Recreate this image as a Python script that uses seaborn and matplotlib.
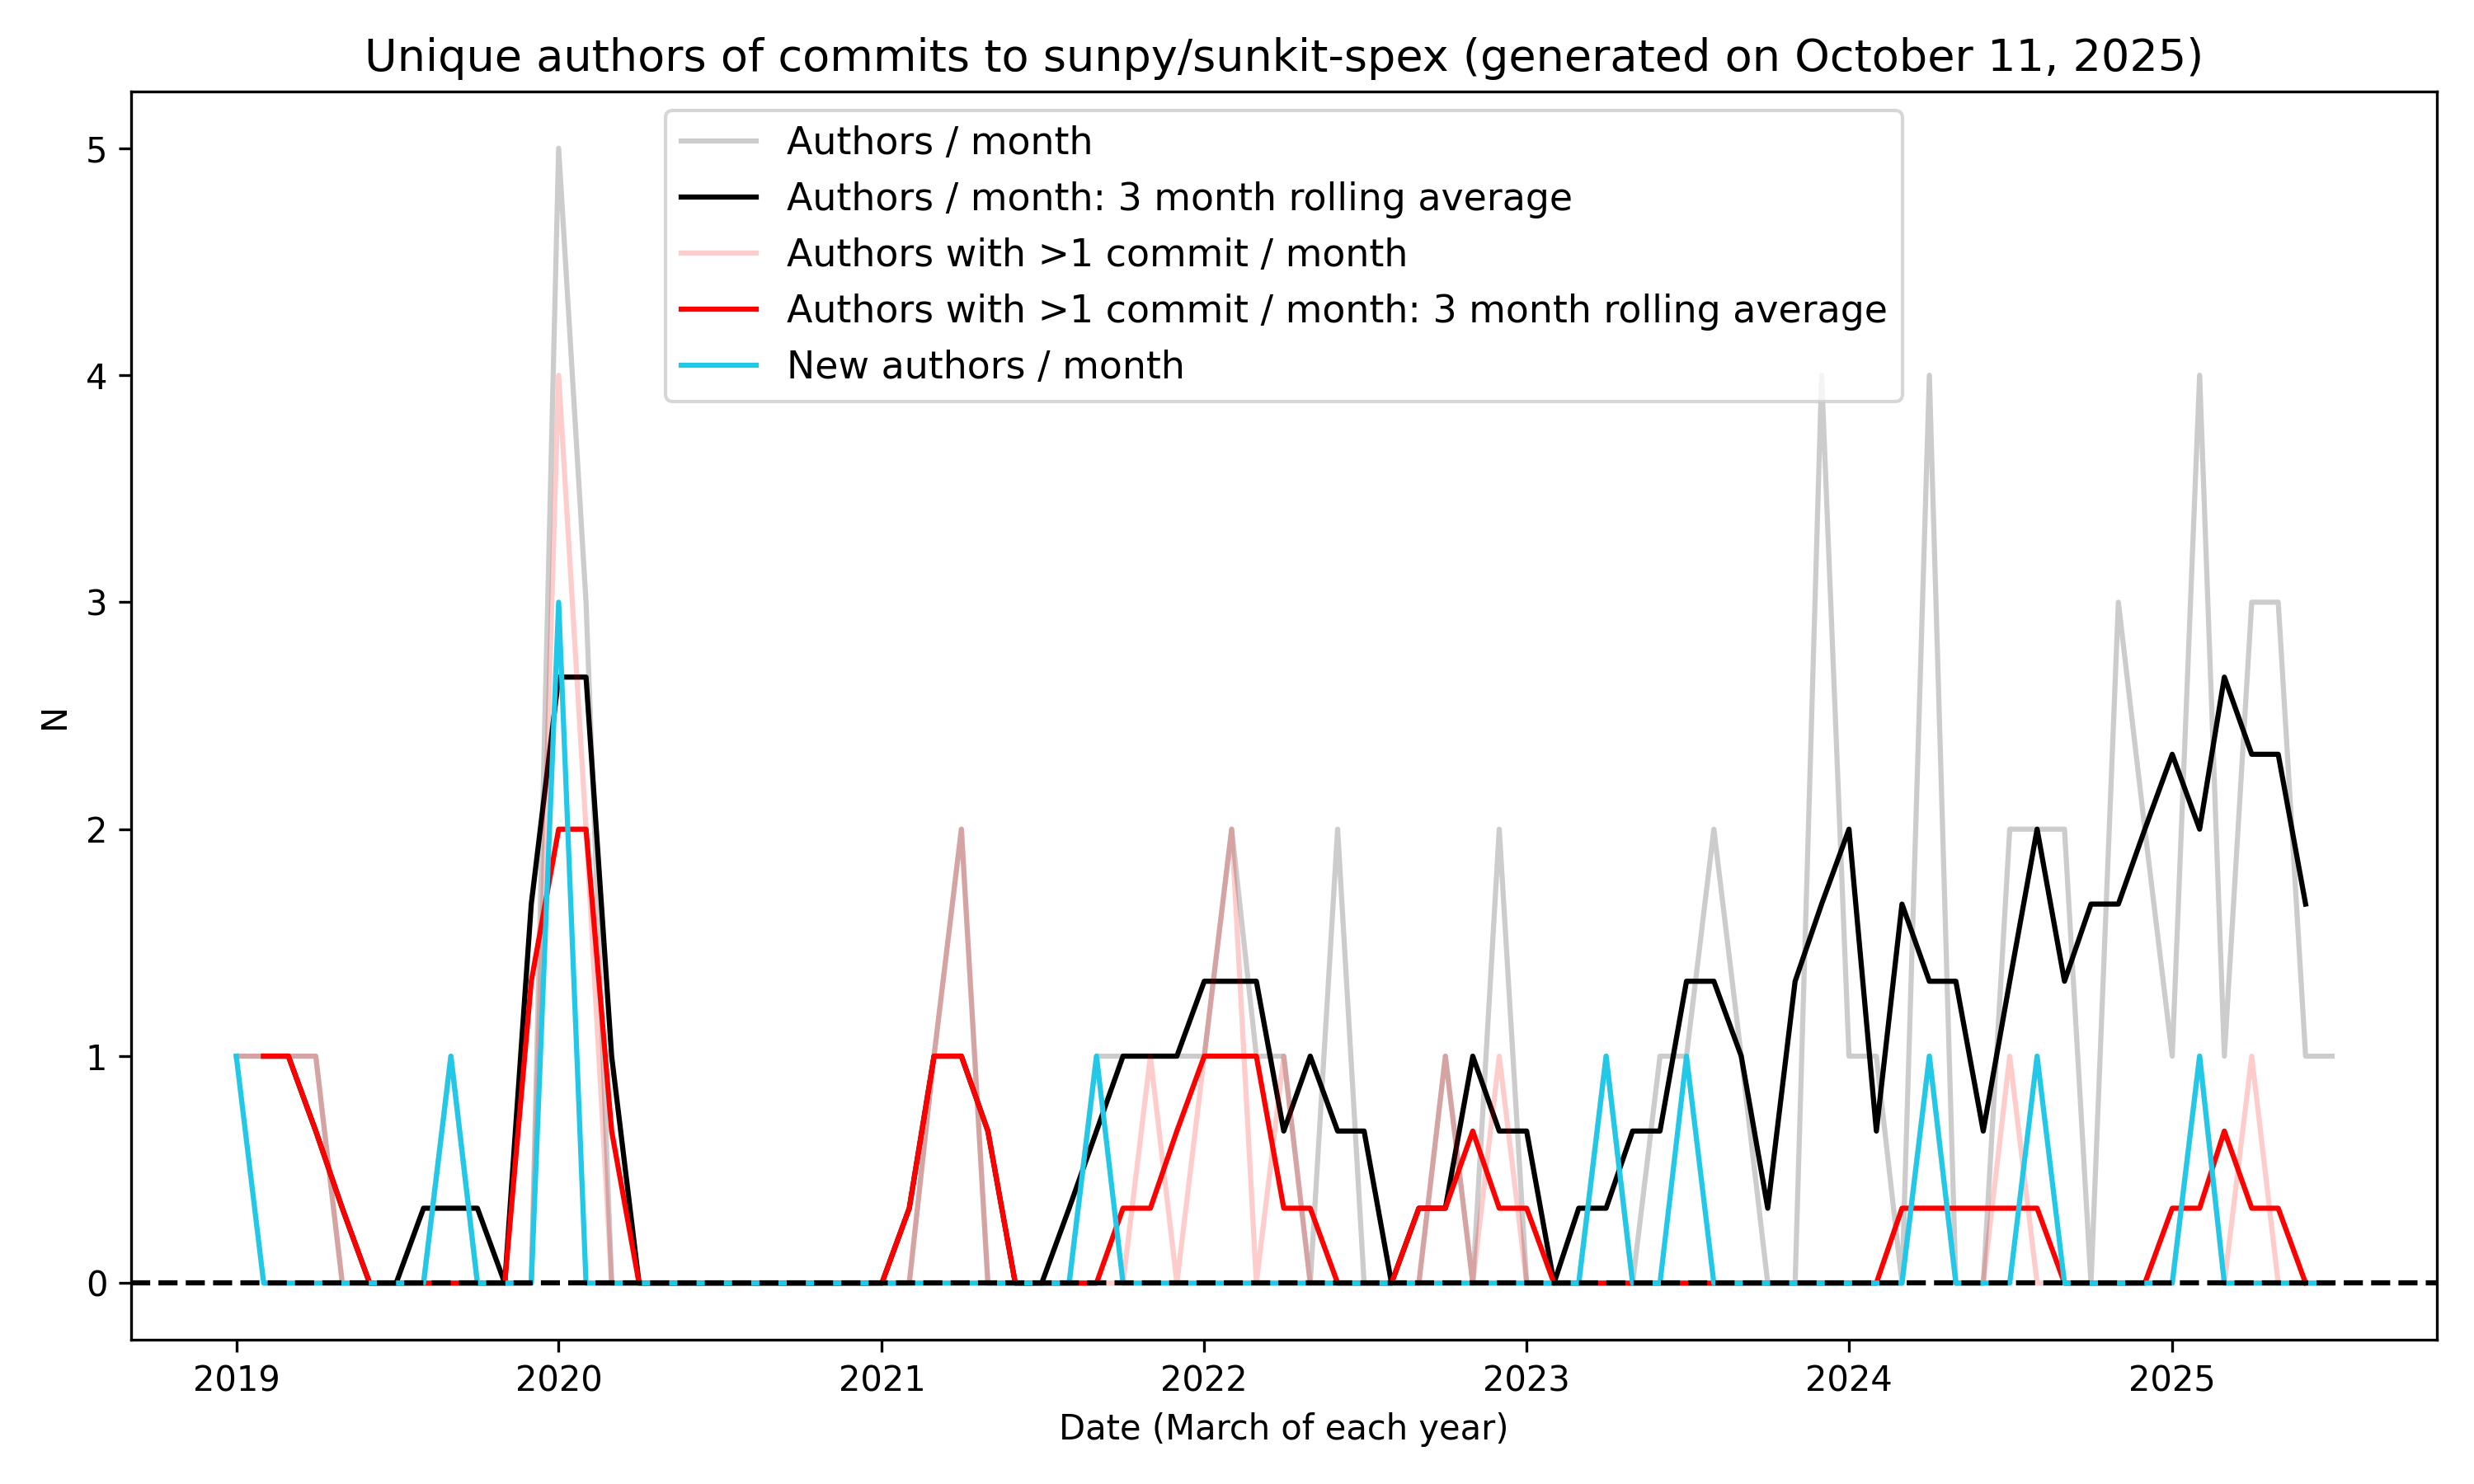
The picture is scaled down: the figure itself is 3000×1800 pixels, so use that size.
import numpy as np
import pandas as pd
import seaborn as sns
from matplotlib import pyplot as plt

months = pd.date_range('2019-01-01', periods=79, freq='MS')

authors = [1, 1, 1, 1, 0, 0, 0, 0, 1, 0, 0, 0,
           5, 3, 0, 0, 0, 0, 0, 0, 0, 0, 0, 0,
           0, 0, 1, 2, 0, 0, 0, 0, 1, 1, 1, 1,
           1, 2, 1, 1, 0, 2, 0, 0, 0, 1, 0, 2,
           0, 0, 0, 1, 0, 1, 1, 2, 1, 0, 0, 4,
           1, 1, 0, 4, 0, 0, 2, 2, 2, 0, 3, 2,
           1, 4, 1, 3, 3, 1, 1]
authors_avg = [np.nan, 1, 1, 0.67, 0.33, 0, 0, 0.33, 0.33, 0.33, 0, 1.67,
               2.67, 2.67, 1, 0, 0, 0, 0, 0, 0, 0, 0, 0,
               0, 0.33, 1, 1, 0.67, 0, 0, 0.33, 0.67, 1, 1, 1,
               1.33, 1.33, 1.33, 0.67, 1, 0.67, 0.67, 0, 0.33, 0.33, 1, 0.67,
               0.67, 0, 0.33, 0.33, 0.67, 0.67, 1.33, 1.33, 1, 0.33, 1.33, 1.67,
               2, 0.67, 1.67, 1.33, 1.33, 0.67, 1.33, 2, 1.33, 1.67, 1.67, 2,
               2.33, 2, 2.67, 2.33, 2.33, 1.67, np.nan]
multi = [1, 1, 1, 1, 0, 0, 0, 0, 0, 0, 0, 0,
         4, 2, 0, 0, 0, 0, 0, 0, 0, 0, 0, 0,
         0, 0, 1, 2, 0, 0, 0, 0, 0, 0, 1, 0,
         1, 2, 0, 1, 0, 0, 0, 0, 0, 1, 0, 1,
         0, 0, 0, 0, 0, 0, 0, 0, 0, 0, 0, 0,
         0, 0, 0, 1, 0, 0, 1, 0, 0, 0, 0, 0,
         0, 1, 0, 1, 0, 0, 0]
multi_avg = [np.nan, 1, 1, 0.67, 0.33, 0, 0, 0, 0, 0, 0, 1.33,
             2, 2, 0.67, 0, 0, 0, 0, 0, 0, 0, 0, 0,
             0, 0.33, 1, 1, 0.67, 0, 0, 0, 0, 0.33, 0.33, 0.67,
             1, 1, 1, 0.33, 0.33, 0, 0, 0, 0.33, 0.33, 0.67, 0.33,
             0.33, 0, 0, 0, 0, 0, 0, 0, 0, 0, 0, 0,
             0, 0, 0.33, 0.33, 0.33, 0.33, 0.33, 0.33, 0, 0, 0, 0,
             0.33, 0.33, 0.67, 0.33, 0.33, 0, np.nan]
new_authors = [1, 0, 0, 0, 0, 0, 0, 0, 1, 0, 0, 0,
               3, 0, 0, 0, 0, 0, 0, 0, 0, 0, 0, 0,
               0, 0, 0, 0, 0, 0, 0, 0, 1, 0, 0, 0,
               0, 0, 0, 0, 0, 0, 0, 0, 0, 0, 0, 0,
               0, 0, 0, 1, 0, 0, 1, 0, 0, 0, 0, 0,
               0, 0, 0, 1, 0, 0, 0, 1, 0, 0, 0, 0,
               0, 1, 0, 0, 0, 0, 0]

df = pd.DataFrame({'date': months, 'authors': authors, 'authors_avg': authors_avg,
                   'multi': multi, 'multi_avg': multi_avg, 'new': new_authors})

plt.rcParams['font.family'] = ['DejaVu Sans']
fig, ax = plt.subplots(figsize=(10, 6), dpi=300)
sns.lineplot(data=df, x='date', y='authors', color='black', alpha=0.2, label='Authors / month', ax=ax)
sns.lineplot(data=df, x='date', y='authors_avg', color='black', label='Authors / month: 3 month rolling average', ax=ax)
sns.lineplot(data=df, x='date', y='multi', color='red', alpha=0.2, label='Authors with >1 commit / month', ax=ax)
sns.lineplot(data=df, x='date', y='multi_avg', color='red', label='Authors with >1 commit / month: 3 month rolling average', ax=ax)
sns.lineplot(data=df, x='date', y='new', color='#22c8e8', label='New authors / month', ax=ax)
ax.axhline(0, color='black', ls='--')

years = pd.date_range('2019-01-01', periods=7, freq='YS')
ax.set_xticks(years)
ax.set_xticklabels([str(d.year) for d in years])
ax.tick_params(labelsize=10)
ax.set_xlabel('Date (March of each year)', fontsize=10)
ax.set_ylabel('N', fontsize=10)
ax.set_title('Unique authors of commits to sunpy/sunkit-spex (generated on October 11, 2025)', fontsize=13)
ax.legend(loc='upper center', fontsize=11)
fig.tight_layout()
fig.savefig('out.png')
